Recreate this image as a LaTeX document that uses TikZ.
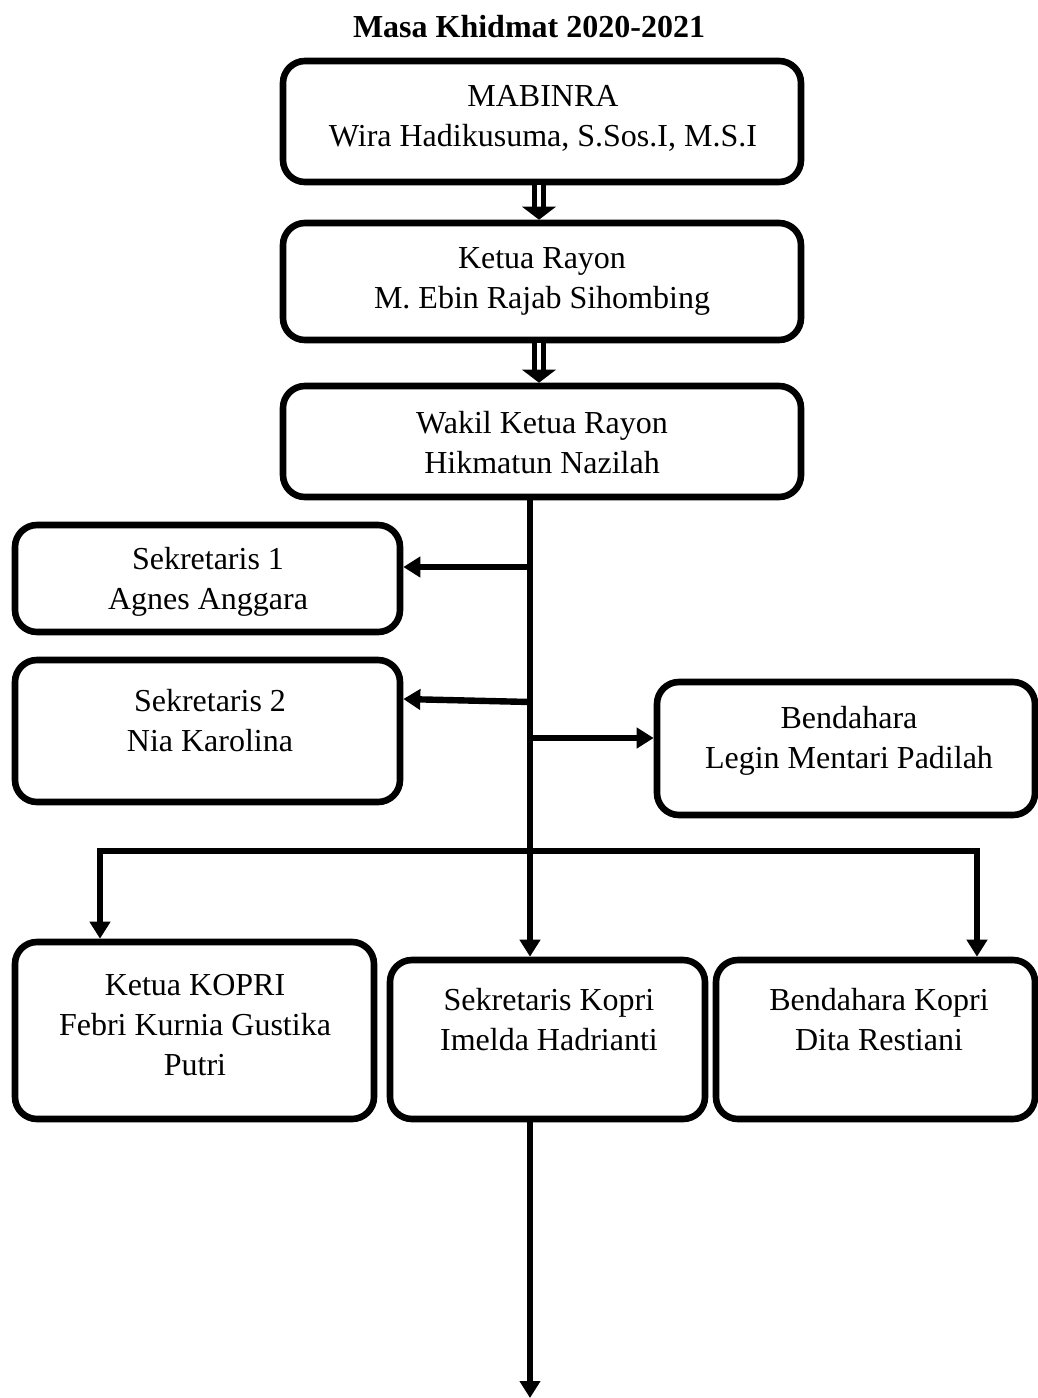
\documentclass[tikz,border=0pt]{standalone}
\usepackage{fontspec}
\setmainfont{Liberation Serif}
\usetikzlibrary{arrows.meta,calc}
\begin{document}
\begin{tikzpicture}[x=0.5pt,y=-0.5pt,
  box/.style={draw, line width=3.3pt, rounded corners=11pt, inner sep=0pt},
  txt/.style={align=center, inner sep=0pt, font=\fontsize{16pt}{20pt}\selectfont},
  ln/.style={line width=3.2pt, line join=miter},
  arr/.style={line width=3.2pt, line join=miter, -{Triangle[width=10pt,length=8.5pt]}},
  dbl/.style={line width=2.5pt, double, double distance=2pt},
  head/.style={fill=black}]
\useasboundingbox (0,0) rectangle (1038,1398);

\node[txt, font=\fontsize{16pt}{20pt}\selectfont\bfseries] (title) at (529,27) {Masa Khidmat 2020-2021};

% boxes
\node[box, minimum width=259pt, minimum height=60.5pt] (mab) at (542,121.5) {};
\node[box, minimum width=259pt, minimum height=58.5pt] (ketua) at (542,281.5) {};
\node[box, minimum width=259pt, minimum height=55.5pt] (wakil) at (542,441.5) {};
\node[box, minimum width=192.5pt, minimum height=53.5pt] (sek1) at (207.5,578.5) {};
\node[box, minimum width=192.5pt, minimum height=71pt] (sek2) at (207.5,731) {};
\node[box, minimum width=189pt, minimum height=66.5pt] (bend) at (846,748.5) {};
\node[box, minimum width=179.5pt, minimum height=88.5pt] (kk) at (194.5,1030.5) {};
\node[box, minimum width=157.5pt, minimum height=79.5pt] (skk) at (547.5,1039.5) {};
\node[box, minimum width=159.5pt, minimum height=79.5pt] (bkk) at (875.5,1039.5) {};

% texts
\node[txt] (mabT) at (543,118) {MABINRA\\Wira Hadikusuma, S.Sos.I, M.S.I};
\node[txt] (ketuaT) at (542,281) {Ketua Rayon\\M. Ebin Rajab Sihombing};
\node[txt] (wakilT) at (542,442.5) {Wakil Ketua Rayon\\Hikmatun Nazilah};
\node[txt] (sek1T) at (208,581.5) {Sekretaris 1\\Agnes Anggara};
\node[txt] (sek2T) at (210,720.5) {Sekretaris 2\\Nia Karolina};
\node[txt] (bendT) at (849,740.5) {Bendahara\\Legin Mentari Padilah};
\node[txt] (kkT) at (195,1025) {Ketua KOPRI\\Febri Kurnia Gustika\\Putri};
\node[txt] (skkT) at (549,1020) {Sekretaris Kopri\\Imelda Hadrianti};
\node[txt] (bkkT) at (879,1020) {Bendahara Kopri\\Dita Restiani};

% double arrows
\coordinate (dx) at (539,0);
\draw[dbl] (mab.south -| dx) -- ($(ketua.north -| dx)+(0,-11)$);
\fill[head] ($(ketua.north -| dx)+(-17,-13)$) -- ($(ketua.north -| dx)+(17,-13)$) -- (ketua.north -| dx) -- cycle;
\draw[dbl] (ketua.south -| dx) -- ($(wakil.north -| dx)+(0,-11)$);
\fill[head] ($(wakil.north -| dx)+(-17,-13)$) -- ($(wakil.north -| dx)+(17,-13)$) -- (wakil.north -| dx) -- cycle;

% trunk
\coordinate (tx) at (530,0);
\draw[arr] (wakil.south -| tx) -- (skk.north -| tx);

% side branches
\coordinate (j1) at (530,567);
\coordinate (j2) at (530,702);
\coordinate (j3) at (530,738);
\draw[arr] (j1) -- (sek1.east |- j1);
\draw[arr] (j2) -- ($(sek2.east |- j2)+(0,-3)$);
\draw[arr] (j3) -- (bend.west |- j3);

% horizontal bar to KOPRI
\coordinate (hl) at (100,851);
\coordinate (hr) at (977,851);
\draw[arr] (hr) -- (hl) -- (kk.north -| hl);
\draw[arr] (hl) -- (hr) -- (bkk.north -| hr);

% bottom arrow
\coordinate (bot) at (530,1398);
\draw[arr] (skk.south -| tx) -- (bot);
\end{tikzpicture}
\end{document}
